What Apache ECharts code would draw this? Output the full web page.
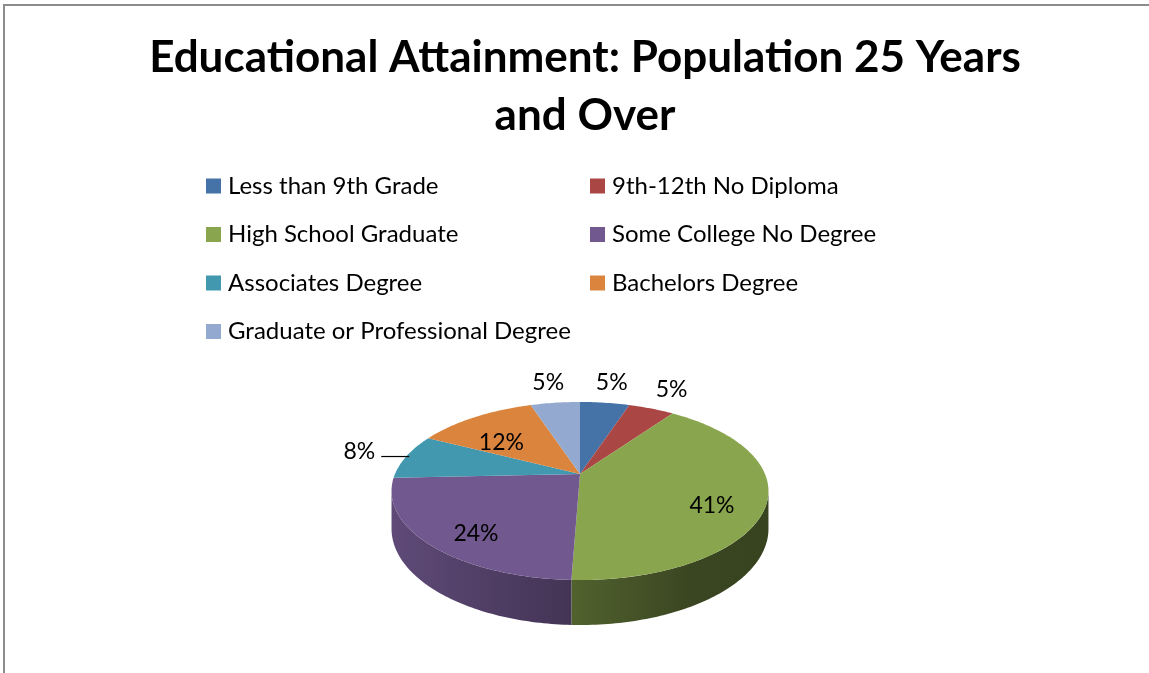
<!DOCTYPE html>
<html>
<head>
<meta charset="utf-8">
<script src="https://cdn.jsdelivr.net/npm/echarts@6/dist/echarts.min.js"></script>
<style>
  html, body { margin: 0; padding: 0; background: #fff; }
  #pie { width: 1149px; height: 673px; }
</style>
</head>
<body>
<div id="pie"></div>
<script>
// categories and shares (percent)
const categories = [
  'Less than 9th Grade',
  '9th-12th No Diploma',
  'High School Graduate',
  'Some College No Degree',
  'Associates Degree',
  'Bachelors Degree',
  'Graduate or Professional Degree'
];
const values = [5.1, 4.7, 40.8, 23.7, 8.2, 12.4, 5.1];
const colors = ['#4572A7', '#AA4643', '#89A54E', '#71588F', '#4198AF', '#DB843D', '#93A9CF'];

// 3d pie look (perspective ellipse)
const CX = 580, CY = 474, R = 185, B = 85.8, P = 0.191, DEPTH = 36.4;
const SIL = Math.acos(-P); // silhouette angle, side wall visible between SIL and 2PI-SIL
const total = values.reduce((a, b) => a + b, 0);

function proj(theta, k, drop) {
  const X = Math.sin(theta) * k, Z = Math.cos(theta) * k;
  const s = 1 / (1 + P * Z);
  return [CX + R * X * s, CY - B * Z * s + (drop || 0) * s];
}

function shade(hex, f) {
  const n = parseInt(hex.slice(1), 16);
  const r = Math.round(((n >> 16) & 255) * f), g = Math.round(((n >> 8) & 255) * f), b = Math.round((n & 255) * f);
  return 'rgb(' + r + ',' + g + ',' + b + ')';
}

function makeRender(i) {
  return function (params, api) {
    const before = values.slice(0, i).reduce((a, b) => a + b, 0);
    const a0 = before / total * Math.PI * 2;
    const a1 = (before + api.value(0)) / total * Math.PI * 2;
    const step = Math.PI / 180;
    const children = [];

    // side wall
    const s0 = Math.max(a0, SIL), s1 = Math.min(a1, Math.PI * 2 - SIL);
    if (s1 > s0) {
      const pts = [];
      for (let t = s0; t < s1; t += step) pts.push(proj(t, 1));
      pts.push(proj(s1, 1));
      const bot = [];
      for (let t = s0; t < s1; t += step) bot.push(proj(t, 1, DEPTH));
      bot.push(proj(s1, 1, DEPTH));
      children.push({
        type: 'polygon',
        shape: { points: pts.concat(bot.reverse()) },
        style: {
          fill: {
            type: 'linear', x: 390, y: 0, x2: 770, y2: 0, global: true,
            colorStops: [
              { offset: 0, color: shade(colors[i], 0.84) },
              { offset: 0.5, color: shade(colors[i], 0.58) },
              { offset: 0.8, color: shade(colors[i], 0.42) },
              { offset: 1, color: shade(colors[i], 0.40) }
            ]
          }
        }
      });
    }

    // top face
    const top = [[CX, CY]];
    for (let t = a0; t < a1; t += step) top.push(proj(t, 1));
    top.push(proj(a1, 1));
    children.push({ type: 'polygon', shape: { points: top }, style: { fill: colors[i] } });

    // label
    const pct = Math.round(api.value(0) / total * 100);
    const mid = (a0 + a1) / 2;
    const font = '23px Lato';
    if (pct < 10) {
      if (Math.abs(Math.sin(mid)) > 0.85) {
        const e = proj(mid, 1);
        const dir = Math.sin(mid) < 0 ? -1 : 1;
        children.push({
          type: 'line',
          shape: { x1: e[0] - 3 * dir, y1: e[1], x2: e[0] + 25 * dir, y2: e[1] },
          style: { stroke: '#000', lineWidth: 1.2 }
        });
        children.push({
          type: 'text',
          style: { text: pct + '%', x: e[0] + 31 * dir, y: e[1] - 5, fill: '#000', font: font,
            align: dir < 0 ? 'right' : 'left', verticalAlign: 'middle' }
        });
      } else {
        const p = proj(mid, 1.35);
        children.push({
          type: 'text',
          style: { text: pct + '%', x: p[0], y: p[1], fill: '#000', font: font, align: 'center', verticalAlign: 'middle' }
        });
      }
    } else {
      const p = proj(mid, 0.72);
      children.push({
        type: 'text',
        style: { text: pct + '%', x: p[0], y: p[1] + 11, fill: '#000', font: font, align: 'center', verticalAlign: 'middle' }
      });
    }
    return { type: 'group', children: children };
  };
}

const chart = echarts.init(document.getElementById('pie'));

const legendText = { fontSize: 24, fontFamily: 'Lato', color: '#000', lineHeight: 24, padding: [0, 0, 0, 2] };

const option = {
  animation: false,
  title: {
    text: 'Educational Attainment: Population 25 Years\nand Over',
    left: 580,
    top: 24,
    textAlign: 'center',
    textStyle: { fontFamily: 'Lato', fontWeight: 'bold', fontSize: 44, lineHeight: 58, color: '#000' }
  },
  legend: [
    {
      data: categories.filter((c, k) => k % 2 === 0),
      orient: 'vertical', left: 206, top: 174, padding: 0, itemGap: 24.5,
      icon: 'rect', itemWidth: 15, itemHeight: 15, textStyle: legendText
    },
    {
      data: categories.filter((c, k) => k % 2 === 1),
      orient: 'vertical', left: 590, top: 174, padding: 0, itemGap: 24.5,
      icon: 'rect', itemWidth: 15, itemHeight: 15, textStyle: legendText
    }
  ],
  graphic: [
    { type: 'rect', shape: { x: 4, y: 5, width: 1200, height: 700 }, style: { fill: 'none', stroke: '#8c8c8c', lineWidth: 2 }, silent: true }
  ],
  series: categories.map((name, i) => ({
    name: name,
    type: 'custom',
    coordinateSystem: 'none',
    silent: true,
    itemStyle: { color: colors[i] },
    renderItem: makeRender(i),
    data: [values[i]]
  }))
};

chart.setOption(option);
</script>
</body>
</html>
